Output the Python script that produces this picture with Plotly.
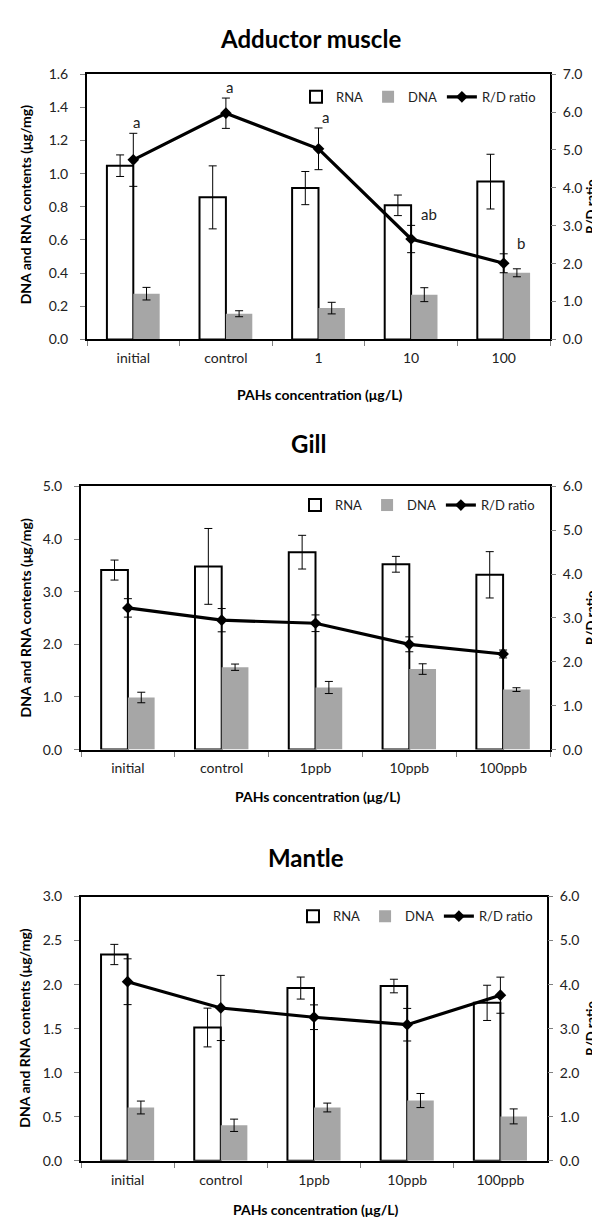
import plotly.graph_objects as go

# ---------------- data ----------------
cats_adductor = ["initial", "control", "1", "10", "100"]
cats_ppb = ["initial", "control", "1ppb", "10ppb", "100ppb"]

# Adductor muscle
add_rna = [1.048, 0.857, 0.913, 0.809, 0.952]
add_rna_err = [0.065, 0.19, 0.10, 0.062, 0.165]
add_dna = [0.276, 0.155, 0.189, 0.270, 0.402]
add_dna_err = [0.038, 0.018, 0.035, 0.042, 0.024]
add_rd = [4.74, 5.97, 5.03, 2.65, 2.01]
add_rd_err = [0.70, 0.40, 0.55, 0.36, 0.25]
add_letters = ["a", "a", "a", "ab", "b"]

# Gill
gill_rna = [3.41, 3.48, 3.75, 3.52, 3.32]
gill_rna_err = [0.19, 0.72, 0.32, 0.15, 0.44]
gill_dna = [0.99, 1.565, 1.18, 1.53, 1.14]
gill_dna_err = [0.10, 0.06, 0.115, 0.10, 0.035]
gill_rd = [3.23, 2.95, 2.88, 2.40, 2.18]
gill_rd_err = [0.21, 0.265, 0.19, 0.17, 0.09]

# Mantle
man_rna = [2.342, 1.513, 1.961, 1.984, 1.793]
man_rna_err = [0.115, 0.22, 0.125, 0.077, 0.20]
man_dna = [0.605, 0.403, 0.605, 0.684, 0.504]
man_dna_err = [0.073, 0.07, 0.05, 0.08, 0.085]
man_rd = [4.066, 3.47, 3.26, 3.09, 3.76]
man_rd_err = [0.52, 0.74, 0.28, 0.37, 0.41]

titles = ["Adductor muscle", "Gill", "Mantle"]
left_ranges = [(0, 1.6, 0.2), (0, 5.0, 1.0), (0, 3.0, 0.5)]
right_ranges = [(0, 7.0, 1.0), (0, 6.0, 1.0), (0, 6.0, 1.0)]

# ---------------- layout geometry (pixels) ----------------
W, H = 600, 1217
FONT = "Lato, 'Open Sans', sans-serif"
panels = [
    dict(x0=79, x1=542, y0=58, y1=327, title_x=302, title_y=22, xt_x=311, xt_y=383,
         leg_x=533, leg_y=81, ytitle_c=191),
    dict(x0=73, x1=542, y0=476, y1=743, title_x=300, title_y=433, xt_x=309, xt_y=791,
         leg_x=532, leg_y=495, ytitle_c=610),
    dict(x0=73, x1=539, y0=892, y1=1160, title_x=298, title_y=852, xt_x=307, xt_y=1209,
         leg_x=530, leg_y=912, ytitle_c=1026),
]

def px(x):
    return x / W

def py(y):
    return 1 - y / H

datasets = [
    (cats_adductor, add_rna, add_rna_err, add_dna, add_dna_err, add_rd, add_rd_err),
    (cats_ppb, gill_rna, gill_rna_err, gill_dna, gill_dna_err, gill_rd, gill_rd_err),
    (cats_ppb, man_rna, man_rna_err, man_dna, man_dna_err, man_rd, man_rd_err),
]

fig = go.Figure()
layout = dict(
    width=W, height=H, margin=dict(l=0, r=0, t=0, b=0),
    paper_bgcolor="white", plot_bgcolor="white",
    barmode="group", bargap=0.43, bargroupgap=0,
    font=dict(family=FONT, size=14, color="#222"),
    annotations=[], showlegend=True,
)

err_style = dict(type="data", color="black", thickness=1, width=4, visible=True)

for i, (cats, rna, rna_e, dna, dna_e, rd, rd_e) in enumerate(datasets):
    n = i * 2 + 1
    xa = "x" if i == 0 else f"x{i+1}"
    ya = f"y{n}" if n > 1 else "y"
    ya2 = f"y{n+1}"
    leg = "legend" if i == 0 else f"legend{i+1}"
    p = panels[i]

    fig.add_trace(go.Bar(
        x=cats, y=rna, name="RNA", xaxis=xa, yaxis=ya, legend=leg,
        marker=dict(color="white", line=dict(color="black", width=2)),
        error_y=dict(array=rna_e, **err_style),
    ))
    fig.add_trace(go.Bar(
        x=cats, y=dna, name="DNA", xaxis=xa, yaxis=ya, legend=leg,
        marker=dict(color="#A6A6A6", line=dict(width=0)),
        error_y=dict(array=dna_e, **err_style),
    ))
    fig.add_trace(go.Scatter(
        x=cats, y=rd, name="R/D ratio", xaxis=xa, yaxis=ya2, legend=leg,
        mode="lines+markers",
        line=dict(color="black", width=3.2),
        marker=dict(symbol="diamond", size=9, color="black"),
        error_y=dict(array=rd_e, **err_style),
    ))

    xkey = "xaxis" if i == 0 else f"xaxis{i+1}"
    ykey = "yaxis" if n == 1 else f"yaxis{n}"
    ykey2 = f"yaxis{n+1}"
    dom_x = [px(p["x0"]), px(p["x1"])]
    dom_y = [py(p["y1"]), py(p["y0"])]

    layout[xkey] = dict(
        domain=dom_x, anchor=ya, type="category",
        categoryorder="array", categoryarray=cats, range=[-0.5, len(cats) - 0.5],
        showline=True, linecolor="black", linewidth=2, mirror=True,
        ticks="outside", tickson="boundaries", ticklen=5, tickcolor="#808080",
        ticklabelstandoff=5,
        tickfont=dict(size=14, color="#222", family=FONT),
        showgrid=False, zeroline=False, fixedrange=True,
    )
    lo, hi, dt = left_ranges[i]
    layout[ykey] = dict(
        domain=dom_y, anchor=xa, range=[lo, hi], dtick=dt, tickformat=".1f",
        showline=True, linecolor="black", linewidth=2, mirror=True,
        ticks="outside", ticklen=5, tickcolor="#808080",
        ticklabelstandoff=9,
        tickfont=dict(size=14, color="#222", family=FONT),
        showgrid=False, zeroline=False,
    )
    lo2, hi2, dt2 = right_ranges[i]
    layout[ykey2] = dict(
        overlaying=ya, side="right", anchor=xa, range=[lo2, hi2], dtick=dt2, tickformat=".1f",
        showline=False, ticks="outside", ticklen=5, tickcolor="#808080",
        ticklabelstandoff=4,
        tickfont=dict(size=14, color="#222", family=FONT),
        showgrid=False, zeroline=False,
    )
    layout[leg] = dict(
        orientation="h", xanchor="right", yanchor="middle",
        x=px(p["leg_x"]), y=py(p["leg_y"]),
        bgcolor="rgba(0,0,0,0)", font=dict(size=13, color="#222", family=FONT),
        itemwidth=30, tracegroupgap=0, traceorder="normal",
    )

    # panel title
    layout["annotations"].append(dict(
        text=f"<b>{titles[i]}</b>", x=px(p["title_x"]), y=py(p["title_y"]),
        xref="paper", yref="paper", showarrow=False, xanchor="center", yanchor="middle",
        font=dict(size=24, color="black", family=FONT),
    ))
    # x-axis title
    layout["annotations"].append(dict(
        text="<b>PAHs concentration (μg/L)</b>", x=px(p["xt_x"]), y=py(p["xt_y"]),
        xref="paper", yref="paper", showarrow=False, xanchor="center", yanchor="middle",
        font=dict(size=14, color="black", family=FONT),
    ))
    # left y title
    layout["annotations"].append(dict(
        text="<b>DNA and RNA contents (μg/mg)</b>", x=px(17), y=py(p["ytitle_c"]),
        xref="paper", yref="paper", showarrow=False, xanchor="center", yanchor="middle",
        textangle=-90, font=dict(size=14, color="black", family=FONT),
    ))
    # right y title
    layout["annotations"].append(dict(
        text="<b>R/D ratio</b>", x=px(583), y=py((p["y0"] + p["y1"]) / 2),
        xref="paper", yref="paper", showarrow=False, xanchor="center", yanchor="middle",
        textangle=-90, font=dict(size=13, color="black", family=FONT),
    ))

# significance letters on adductor muscle R/D ratio
letter_xshift = [3, 4, 7, 18, 17]
for k, (v, e, t, xs) in enumerate(zip(add_rd, add_rd_err, add_letters, letter_xshift)):
    layout["annotations"].append(dict(
        text=t, x=k, y=v + e, xref="x", yref="y2", showarrow=False,
        xanchor="center", yanchor="middle", xshift=xs, yshift=11,
        font=dict(size=15, color="#222", family=FONT),
    ))

fig.update_layout(**layout)
fig.write_html("out.html")
